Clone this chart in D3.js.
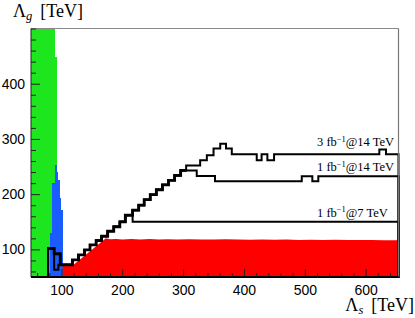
<!DOCTYPE html>
<html><head><meta charset="utf-8">
<script src="https://cdn.jsdelivr.net/npm/d3@7"></script>
<style>
html,body{margin:0;padding:0;background:#fff;}
svg{display:block;}
</style></head>
<body><div id="chart"></div>
<script>
// ---- data (Λs, Λg in TeV) ----
const xTickLabels = [100, 200, 300, 400, 500, 600];
const yTickLabels = [100, 200, 300, 400];
const xMinorTicks = [60,80,120,140,160,180,220,240,260,280,320,340,360,380,420,440,460,480,520,540,560,580,620,640];
const yMinorTicks = [60,80,120,140,160,180,220,240,260,280,320,340,360,380,420,440,460,480,500];

// green region: bin edges and tops
const greenEdges = [50, 89, 92];
const greenTops  = [500, 448];
// blue region
const blueEdges = [81, 85, 89, 92, 94.5, 97, 99.5, 102.5];
const blueTops  = [130, 220, 252, 240, 225, 193, 171];
// red region upper boundary
const redBoundary = [[102,72],[120,72],[173,120],[180,118.5],[190,119],[200,118],[215,119],[230,118],[245,119],[260,118],[275,118.5],[290,118],[310,118.5],[330,118],[350,118],[370,118.5],[390,118],[410,117.5],[430,118],[450,117.5],[470,118],[490,117],[510,117.5],[530,117],[550,117.5],[570,117],[590,117],[610,117],[630,116.5],[654,116.5]];

// contour pieces
const startA = [[78,50],[78,102],[88,102],[88,92],[98,92],[98,72],[118,72]];
const startB = [[78,50],[78,102],[88,102],[88,63],[95,63],[95,72],[118,72]];
const stairRisers = [118,128,138,147,157,166,176,186,196,205,217,227,236,246,256,266,276,286,296];
const stairLevels = [81,90,99,108,116,124,133,141,150,162,171,180,190,199,208,217,225,234,243];
const tail3fb14 = [[305,243],[305,252],[328,252],[328,261.5],[339,261.5],[339,270.5],[350,270.5],[350,282.5],[361,282.5],[361,291.5],[370.5,291.5],[370.5,282.5],[380,282.5],[380,272.3],[421,272.3],[421,261.5],[429,261.5],[429,272.3],[438.5,272.3],[438.5,261.5],[449.5,261.5],[449.5,272.3],[622.5,272.3],[622.5,281],[633.5,281],[633.5,272.3],[654,272.3],[654,50]];
const tail1fb14 = [[322.4,243],[322.4,233],[352.4,233],[352.4,223.5],[495,223.5],[495,232.5],[512.4,232.5],[512.4,223.5],[522.2,223.5],[522.2,232.5],[654,232.5],[654,50]];
const tail1fb7  = [[217,162],[217,150],[654,150],[654,50]];
const stairsTo1fb7 = 10; // number of risers used by the 7 TeV contour

const labels = [
  {lumi:"3", energy:"14", base:146},
  {lumi:"1", energy:"14", base:171},
  {lumi:"1", energy:"7",  base:216.5}
];

// ---- drawing ----
const W = 415, H = 318;
const svg = d3.select("#chart").append("svg").attr("width", W).attr("height", H);
const x = d3.scaleLinear().domain([50, 654]).range([31, 398.5]);
const y = d3.scaleLinear().domain([50, 500]).range([277, 28.5]);

function bars(edges, tops, color){
  const d = tops.map((t,i)=>({x0:edges[i], x1:edges[i+1], t}));
  svg.append("g").selectAll("rect").data(d).join("rect")
    .attr("x", b=>x(b.x0)).attr("width", b=>x(b.x1)-x(b.x0))
    .attr("y", b=>y(b.t)).attr("height", b=>y(50)-y(b.t))
    .attr("fill", color).attr("shape-rendering","crispEdges");
}
bars(greenEdges, greenTops, "#1ee61e");
bars(blueEdges, blueTops, "#1a5cff");

svg.append("path").datum(redBoundary)
  .attr("d", d3.area().x(d=>x(d[0])).y0(y(50)).y1(d=>y(d[1])))
  .attr("fill", "#ff0000");

function stairs(n){
  const pts = [];
  let prev = 72;
  for (let i=0;i<n;i++){ pts.push([stairRisers[i], prev]); pts.push([stairRisers[i], stairLevels[i]]); prev = stairLevels[i]; }
  return pts;
}
const c3 = startA.concat(stairs(stairRisers.length), tail3fb14);
const c1 = startA.concat(stairs(stairRisers.length), tail1fb14);
const c7 = startB.concat(stairs(stairsTo1fb7), tail1fb7);
const line = d3.line().x(d=>x(d[0])).y(d=>y(d[1]));
[c7, c1, c3].forEach(c=>{
  svg.append("path").attr("d", line(c)+"Z").attr("fill","none")
    .attr("stroke","#000").attr("stroke-width",2).attr("stroke-linejoin","miter");
});
// overlapping shared staircase looks heavier
svg.append("path").attr("d", line(startA.slice(1).concat(stairs(stairRisers.length), [[305,243]])))
  .attr("fill","none").attr("stroke","#000").attr("stroke-width",2.8).attr("stroke-linejoin","miter");

// frame
svg.append("line").attr("x1",x(50)).attr("x2",x(654)).attr("y1",y(500)).attr("y2",y(500)).attr("stroke","#8a8a8a").attr("stroke-width",1.2);
svg.append("line").attr("x1",x(654)).attr("x2",x(654)).attr("y1",y(500)).attr("y2",y(50)).attr("stroke","#777").attr("stroke-width",1.2);
svg.append("line").attr("x1",x(50)).attr("x2",x(50)).attr("y1",y(500)).attr("y2",y(50)).attr("stroke","#222").attr("stroke-width",1);
svg.append("line").attr("x1",x(50)).attr("x2",x(654)).attr("y1",y(50)).attr("y2",y(50)).attr("stroke","#000").attr("stroke-width",2);

// axes
const fontTick = "'Liberation Sans', Arial, sans-serif";
const gx = svg.append("g").attr("transform",`translate(0,${y(50)})`)
  .call(d3.axisBottom(x).tickValues(xTickLabels).tickSizeInner(-8).tickSizeOuter(0).tickPadding(8));
const gxm = svg.append("g").attr("transform",`translate(0,${y(50)})`)
  .call(d3.axisBottom(x).tickValues(xMinorTicks).tickSize(-4).tickFormat(""));
const gy = svg.append("g").attr("transform",`translate(${x(50)},0)`)
  .call(d3.axisLeft(y).tickValues(yTickLabels).tickSizeInner(-9).tickSizeOuter(0).tickPadding(6));
const gym = svg.append("g").attr("transform",`translate(${x(50)},0)`)
  .call(d3.axisLeft(y).tickValues(yMinorTicks).tickSize(-5).tickFormat(""));
[gx,gxm,gy,gym].forEach(g=>{
  g.select(".domain").remove();
  g.selectAll(".tick line").attr("stroke","#222");
  g.selectAll("text").attr("font-family",fontTick).attr("font-size",14).attr("fill","#000");
});

// axis titles
const serif = "'Liberation Serif', 'Times New Roman', serif";
function title(xp, yp, sub, anchor){
  const t = svg.append("text").attr("x",xp).attr("y",yp).attr("font-family",serif).attr("font-size",18).attr("text-anchor",anchor).attr("fill","#000");
  t.append("tspan").text("Λ");
  t.append("tspan").attr("font-style","italic").attr("font-size",12.5).attr("dy",3).text(sub);
  t.append("tspan").attr("dy",-3).attr("dx",8).text("[TeV]");
}
title(13, 16.7, "g", "start");
title(414, 311, "s", "end");

// contour labels
labels.forEach(l=>{
  const t = svg.append("text").attr("x",317).attr("y",l.base).attr("font-family",serif).attr("font-size",12.5).attr("fill","#000");
  t.append("tspan").text(l.lumi+" fb");
  t.append("tspan").attr("font-size",8.5).attr("dy",-4.5).text("−1");
  t.append("tspan").attr("dy",4.5).text("@"+l.energy+" TeV");
});
</script>
</body></html>
